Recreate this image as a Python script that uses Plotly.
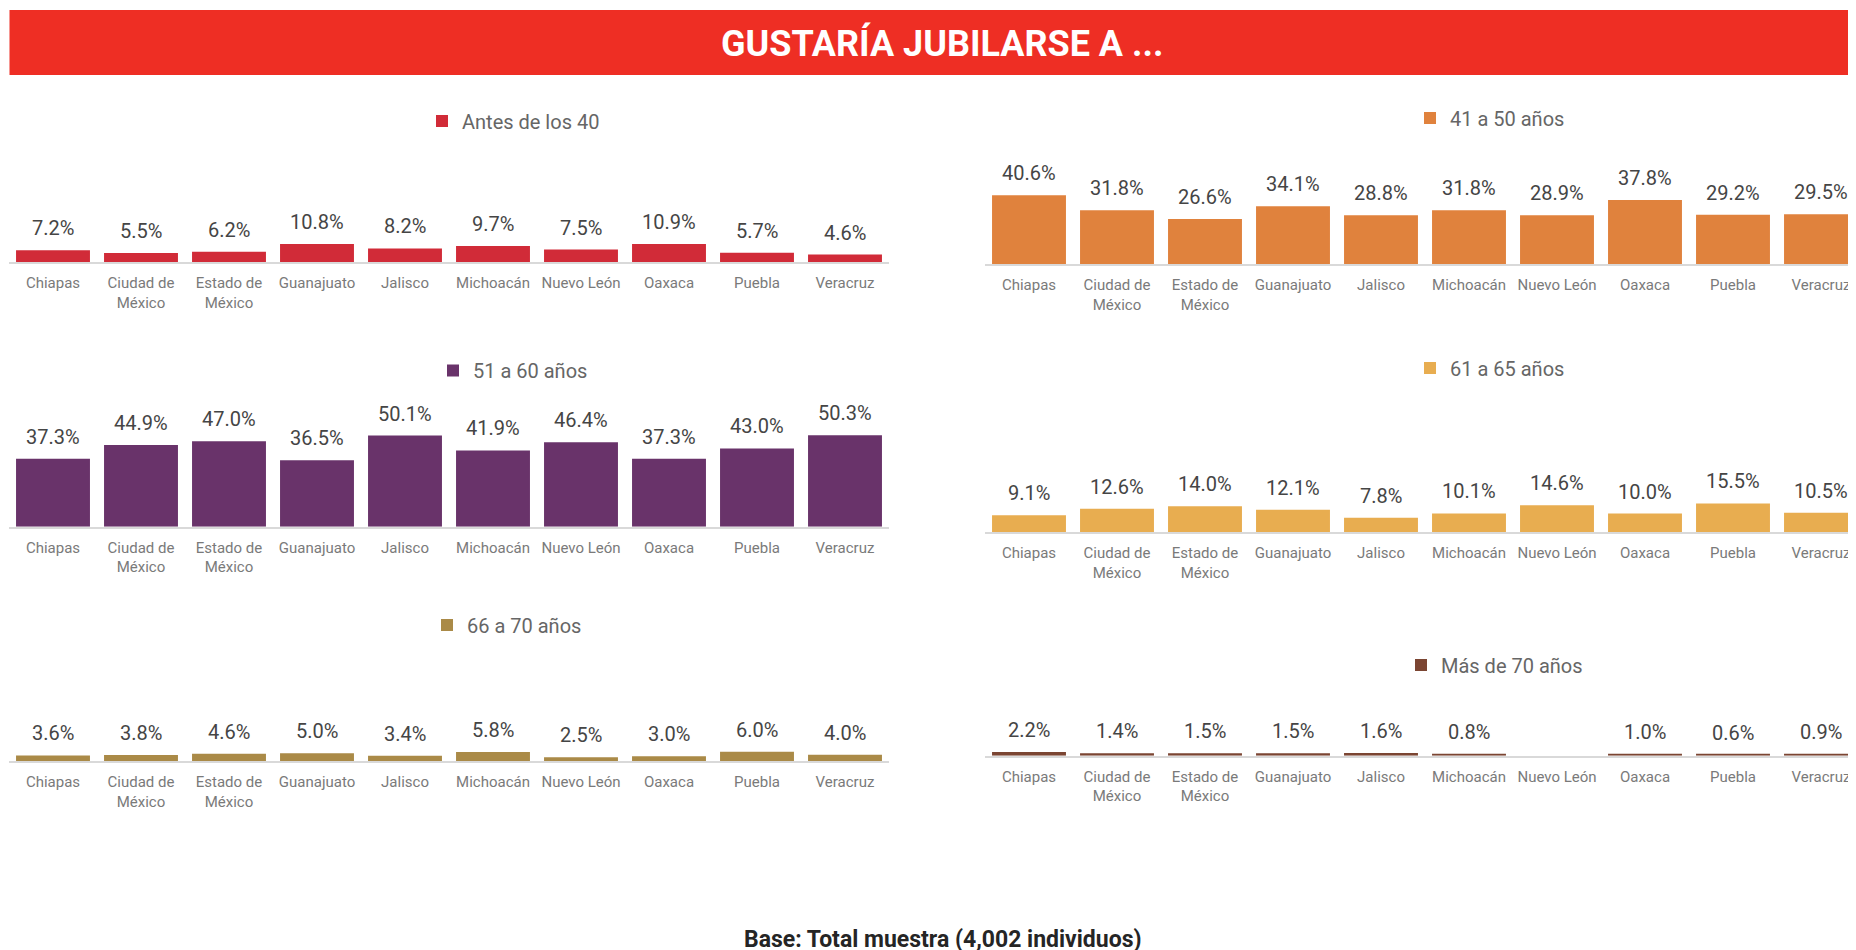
import plotly.graph_objects as go

# ---------------- DATA ----------------
states = ["Chiapas", "Ciudad de México", "Estado de México", "Guanajuato", "Jalisco",
          "Michoacán", "Nuevo León", "Oaxaca", "Puebla", "Veracruz"]

series_names = ["Antes de los 40", "41 a 50 años", "51 a 60 años",
                "61 a 65 años", "66 a 70 años", "Más de 70 años"]

antes_40 = [7.2, 5.5, 6.2, 10.8, 8.2, 9.7, 7.5, 10.9, 5.7, 4.6]
de_41_50 = [40.6, 31.8, 26.6, 34.1, 28.8, 31.8, 28.9, 37.8, 29.2, 29.5]
de_51_60 = [37.3, 44.9, 47.0, 36.5, 50.1, 41.9, 46.4, 37.3, 43.0, 50.3]
de_61_65 = [9.1, 12.6, 14.0, 12.1, 7.8, 10.1, 14.6, 10.0, 15.5, 10.5]
de_66_70 = [3.6, 3.8, 4.6, 5.0, 3.4, 5.8, 2.5, 3.0, 6.0, 4.0]
mas_70 = [2.2, 1.4, 1.5, 1.5, 1.6, 0.8, None, 1.0, 0.6, 0.9]

title_text = "GUSTARÍA JUBILARSE A ..."
footer_text = "Base: Total muestra (4,002 individuos)"

# ---------------- STYLE / LAYOUT ----------------
W, H = 1856, 950
OFF = 8  # page body margin offset
colors = ["#D12B38", "#E0823D", "#69336A", "#E8AD50", "#AA8A47", "#7B4532"]
series_values = [antes_40, de_41_50, de_51_60, de_61_65, de_66_70, mas_70]

# per panel (screen px): (column, baseline_px, px_per_percent, legend_left_px, legend_center_y_px)
panels = [
    ("L", 262.3, 1.69, 422, 121),
    ("R", 264.3, 1.70, 1410, 118),
    ("L", 526.7, 1.82, 433, 370.5),
    ("R", 532.0, 1.84, 1410, 368),
    ("L", 761.0, 1.55, 427, 625),
    ("R", 755.7, 1.70, 1401, 665),
]
PANEL_H = 100.0
STEP = 88.0
left_x0 = 9 - OFF
right_x0 = 985 - OFF
left_dom = [left_x0 / W, (left_x0 + 10 * STEP) / W]
right_dom = [right_x0 / W, 1.0]
right_range = [-0.5, -0.5 + (W - right_x0) / STEP]

FONT = "Roboto"
ticktext = [s.replace(" de ", " de<br>") if s.endswith("México") else s for s in states]

fig = go.Figure()
layout = dict(
    width=W, height=H,
    margin=dict(l=0, r=0, t=0, b=0),
    paper_bgcolor="white", plot_bgcolor="white",
    font=dict(family=FONT),
    bargap=0.16,
    annotations=[], shapes=[],
)

for i, (col, base, scale, leg_x, leg_y) in enumerate(panels):
    n = i + 1
    base = base - OFF
    leg_x = leg_x - OFF
    leg_y = leg_y - OFF
    xa = "x" if n == 1 else f"x{n}"
    ya = "y" if n == 1 else f"y{n}"
    leg = "legend" if n == 1 else f"legend{n}"
    vals = series_values[i]
    fig.add_trace(go.Bar(
        x=states, y=vals, name=series_names[i],
        marker=dict(color=colors[i], line=dict(width=0)),
        xaxis=xa, yaxis=ya, legend=leg, showlegend=True,
        hoverinfo="x+y",
    ))
    dom_bottom = 1 - base / H
    dom_top = 1 - (base - PANEL_H) / H
    layout["xaxis" if n == 1 else f"xaxis{n}"] = dict(
        domain=left_dom if col == "L" else right_dom,
        anchor=ya,
        type="category",
        categoryorder="array", categoryarray=states,
        range=[-0.5, 9.5] if col == "L" else right_range,
        tickmode="array", tickvals=states, ticktext=ticktext,
        showgrid=False, zeroline=False,
        showline=True, linecolor="#D9D9D9", linewidth=2,
        ticks="", ticklabelstandoff=6,
        tickfont=dict(family=FONT, size=15, color="#7A7A7A"),
        fixedrange=True,
    )
    layout["yaxis" if n == 1 else f"yaxis{n}"] = dict(
        domain=[dom_bottom, dom_top],
        anchor=xa,
        range=[0, PANEL_H / scale],
        visible=False, showgrid=False, zeroline=False,
        fixedrange=True,
    )
    layout[leg] = dict(
        x=leg_x / W, y=1 - leg_y / H, xanchor="left", yanchor="middle",
        xref="paper", yref="paper",
        font=dict(family=FONT, size=20, color="#666666"),
        bgcolor="rgba(0,0,0,0)", borderwidth=0,
        itemclick=False, itemdoubleclick=False,
    )
    for s, v in zip(states, vals):
        if v is None:
            continue
        layout["annotations"].append(dict(
            x=s, y=v, xref=xa, yref=ya,
            text=f"{v:.1f}%", showarrow=False,
            xanchor="center", yanchor="bottom", yshift=8,
            font=dict(family=FONT, size=20, color="#454545"),
        ))

# title bar
layout["shapes"].append(dict(
    type="rect", xref="paper", yref="paper",
    x0=(9.5 - OFF) / W, x1=1.0, y0=1 - (75 - OFF) / H, y1=1 - (10 - OFF) / H,
    fillcolor="#EE2E24", line=dict(width=0), layer="below",
))
layout["annotations"].append(dict(
    x=(942 - OFF) / W, y=1 - (43 - OFF) / H, xref="paper", yref="paper",
    text=f"<b>{title_text}</b>", showarrow=False,
    xanchor="center", yanchor="middle",
    font=dict(family=FONT, size=36, color="white"),
))
layout["annotations"].append(dict(
    x=(943 - OFF) / W, y=1 - (939 - OFF) / H, xref="paper", yref="paper",
    text=f"<b>{footer_text}</b>", showarrow=False,
    xanchor="center", yanchor="middle",
    font=dict(family=FONT, size=23, color="#252525"),
))

fig.update_layout(**layout)
fig.write_html("out.html",
               post_script="document.documentElement.style.overflow='hidden';")
